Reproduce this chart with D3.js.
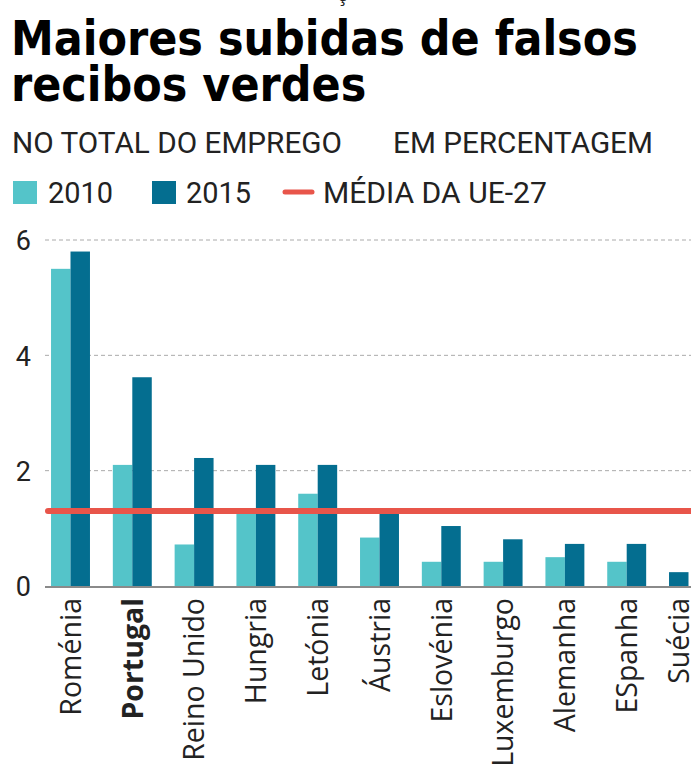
<!DOCTYPE html>
<html>
<head>
<meta charset="utf-8">
<script src="https://cdn.jsdelivr.net/npm/d3@7"></script>
<style>
  html, body { margin: 0; padding: 0; background: #fff; overflow: hidden; }
  svg { display: block; }
</style>
</head>
<body>
<script>
// ---- Data ----
const countries = ["Roménia","Portugal","Reino Unido","Hungria","Letónia","Áustria","Eslovénia","Luxemburgo","Alemanha","ESpanha","Suécia"];
const values2010 = [5.5, 2.1, 0.72, 1.3, 1.6, 0.84, 0.42, 0.42, 0.5, 0.42, null];
const values2015 = [5.8, 3.62, 2.22, 2.1, 2.1, 1.26, 1.04, 0.81, 0.73, 0.73, 0.24];
const euAverage = 1.3;
const yTicks = [0, 2, 4, 6];
const seriesNames = ["2010", "2015"];
const highlight = "Portugal";

// ---- Layout ----
const W = 691, H = 769;
const colors = { "2010": "#54c4c9", "2015": "#046e90" };
const cRed = "#e8554a", cText = "#222";

const svg = d3.select("body").append("svg").attr("width", W).attr("height", H);

function fitText(sel, target) {
  const w = sel.node().getComputedTextLength();
  const fs = parseFloat(sel.attr("font-size"));
  sel.attr("font-size", fs * target / w);
}

// cut-off text at top
svg.append("text").attr("x", 337).attr("y", 1).attr("font-family", "Open Sans")
  .attr("font-size", 20).attr("fill", cText).text("ç");

// Title
const tf = "'Liberation Sans Narrow', 'DejaVu Sans Condensed', sans-serif";
const t1 = svg.append("text").attr("x", 11).attr("y", 55).attr("font-family", tf)
  .attr("font-weight", "bold").attr("font-size", 50).attr("fill", "#000")
  .text("Maiores subidas de falsos");
fitText(t1, 627);
svg.append("text").attr("x", 11).attr("y", 101).attr("font-family", tf)
  .attr("font-weight", "bold").attr("font-size", t1.attr("font-size")).attr("fill", "#000")
  .text("recibos verdes");

// Subtitle
const sf = "'Roboto', sans-serif";
const s1 = svg.append("text").attr("x", 12).attr("y", 153).attr("font-family", sf)
  .attr("font-size", 26).attr("fill", cText).text("NO TOTAL DO EMPREGO");
fitText(s1, 330);
const s2 = svg.append("text").attr("x", 393).attr("y", 153).attr("font-family", sf)
  .attr("font-size", 26).attr("fill", cText).text("EM PERCENTAGEM");
fitText(s2, 260);

// Legend
const lg = svg.append("g");
lg.append("rect").attr("x", 13).attr("y", 181).attr("width", 24).attr("height", 23).attr("fill", colors["2010"]);
const l1 = lg.append("text").attr("x", 48).attr("y", 203).attr("font-family", sf)
  .attr("font-size", 26).attr("fill", cText).text(seriesNames[0]);
fitText(l1, 65);
lg.append("rect").attr("x", 152).attr("y", 181).attr("width", 24).attr("height", 23).attr("fill", colors["2015"]);
lg.append("text").attr("x", 186).attr("y", 203).attr("font-family", sf)
  .attr("font-size", l1.attr("font-size")).attr("fill", cText).text(seriesNames[1]);
lg.append("line").attr("x1", 285).attr("x2", 312).attr("y1", 192).attr("y2", 192)
  .attr("stroke", cRed).attr("stroke-width", 5).attr("stroke-linecap", "round");
const l3 = lg.append("text").attr("x", 323).attr("y", 203).attr("font-family", sf)
  .attr("font-size", 26).attr("fill", cText).text("MÉDIA DA UE-27");
fitText(l3, 224);

// Scales
const y = d3.scaleLinear().domain([0, 6]).range([586, 240]);
const x = d3.scaleBand().domain(countries).range([39.6, 719.4]).paddingInner(0.37).paddingOuter(0.185);
const barW = x.bandwidth() / seriesNames.length;

const plotLeft = 45;

// Grid
svg.append("g").selectAll("line").data(yTicks.filter(d => d > 0)).join("line")
  .attr("x1", plotLeft).attr("x2", W).attr("y1", d => y(d)).attr("y2", d => y(d))
  .attr("stroke", "#aaa").attr("stroke-width", 1).attr("stroke-dasharray", "4,3");

// Y axis labels
const yAxis = d3.axisLeft(y).tickValues(yTicks).tickSize(0).tickPadding(0).tickFormat(d3.format("d"));
const ya = svg.append("g").attr("transform", "translate(31,0)").call(yAxis);
ya.select(".domain").remove();
ya.selectAll("text").attr("font-family", sf).attr("font-size", 27).attr("fill", cText).attr("dy", "0.36em");

// Bars (series with missing values are skipped; remaining bars fill from the band start)
const rows = countries.map((c, i) => {
  const vals = { "2010": values2010[i], "2015": values2015[i] };
  const present = seriesNames.filter(s => vals[s] != null);
  return { country: c, bars: present.map((s, k) => ({ s, v: vals[s], k })), n: present.length };
});
const groups = svg.append("g").selectAll("g").data(rows).join("g")
  .attr("transform", d => `translate(${x(d.country)},0)`);
groups.selectAll("rect").data(d => d.bars).join("rect")
  .attr("x", d => d.k * barW).attr("width", barW)
  .attr("y", d => y(d.v)).attr("height", d => y(0) - y(d.v))
  .attr("fill", d => colors[d.s]);

// Baseline
svg.append("line").attr("x1", plotLeft).attr("x2", W).attr("y1", y(0) + 1).attr("y2", y(0) + 1)
  .attr("stroke", "#8a8a8a").attr("stroke-width", 2);

// EU average line
svg.append("line").attr("x1", plotLeft + 3).attr("x2", W + 10).attr("y1", y(euAverage)).attr("y2", y(euAverage))
  .attr("stroke", cRed).attr("stroke-width", 6).attr("stroke-linecap", "round");

// X axis labels (centred on the drawn bars of each group)
const nByCountry = new Map(rows.map(r => [r.country, r.n]));
const xAxis = d3.axisBottom(x).tickSize(0).tickPadding(0);
const xa = svg.append("g").attr("transform", `translate(0,${y(0)})`).call(xAxis);
xa.select(".domain").remove();
xa.selectAll(".tick").attr("transform", d => `translate(${x(d) + nByCountry.get(d) * barW / 2},0)`);
xa.selectAll("text")
  .attr("font-family", "'Open Sans', sans-serif").attr("font-size", 28.5).attr("fill", cText)
  .attr("text-anchor", "end").attr("transform", "rotate(-90)")
  .attr("x", -12).attr("y", 0).attr("dy", "0.36em")
  .attr("font-weight", d => d === highlight ? "bold" : "normal");
</script>
</body>
</html>
